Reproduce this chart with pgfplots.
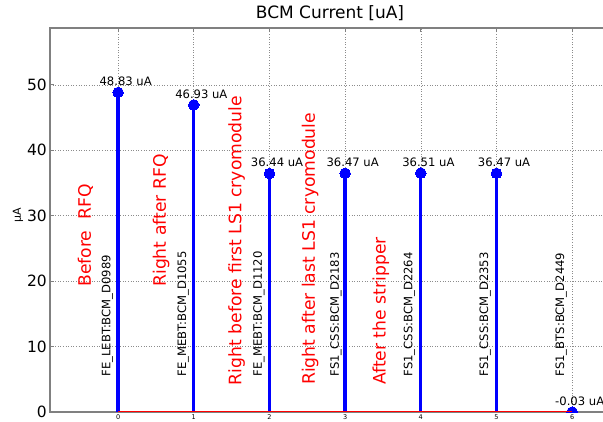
\documentclass[border=0pt]{standalone}
\usepackage{fontspec}
\setmainfont{DejaVu Sans}
\usepackage{pgfplots}
\pgfplotsset{compat=1.18}
\newcommand{\lab}{\fontsize{11.6}{13}\selectfont}
\newcommand{\redf}{\fontsize{17.2}{19}\selectfont}
\begin{document}
\begin{tikzpicture}[x=1pt,y=1pt]
\clip (0,0) rectangle (603,-422);
\begin{axis}[
  at={(50pt,-412pt)}, anchor=south west,
  scale only axis, width=560pt, height=384pt,
  xmin=-0.9, xmax=6.5, ymin=-0.031, ymax=58.69,
  xtick={0,1,2,3,4,5,6}, ytick={0,10,20,30,40,50},
  grid=major,
  major grid style={black!45, line width=0.6pt, dash pattern=on 1pt off 1.6pt},
  axis line style={black!50, line width=1.3pt},
  major tick style={black!50, line width=0.8pt},
  major tick length=4pt,
  /pgf/number format/assume math mode=true,
  xticklabel style={font=\fontsize{6.5}{7}\selectfont, inner sep=0pt, yshift=-2.5pt},
  yticklabel style={font=\fontsize{15.5}{17}\selectfont, inner sep=0pt, xshift=-3pt},
  title={BCM Current [uA]},
  title style={font=\fontsize{17}{19}\selectfont, at={(0.5,1)}, anchor=base, yshift=3pt, inner sep=0pt},
  ylabel={μA},
  ylabel style={font=\fontsize{11}{12}\selectfont, at={(axis description cs:-0.057,0.513)}, anchor=center},
  clip mode=individual,
  clip marker paths=true,
]
\addplot[ycomb, blue, line width=3.3pt, mark=*, mark size=5.3pt, mark options={solid, fill=blue, draw=blue, line width=0pt}]
  coordinates {(0,48.83) (1,46.93) (2,36.44) (3,36.47) (4,36.51) (5,36.47) (6,-0.03)};
\addplot[red, line width=0.6pt] coordinates {(0,0) (6,0)};
% value labels
\node[anchor=base, font=\lab] at (axis cs:0.1,49.83) {48.83 uA};
\node[anchor=base, font=\lab] at (axis cs:1.1,47.93) {46.93 uA};
\node[anchor=base, font=\lab] at (axis cs:2.1,37.44) {36.44 uA};
\node[anchor=base, font=\lab] at (axis cs:3.1,37.47) {36.47 uA};
\node[anchor=base, font=\lab] at (axis cs:4.1,37.51) {36.51 uA};
\node[anchor=base, font=\lab] at (axis cs:5.1,37.47) {36.47 uA};
\node[anchor=base, font=\lab] at (axis cs:6.1,0.97) {-0.03 uA};
% device names
\node[rotate=90, anchor=west, inner sep=0pt, font=\lab] at (axis cs:-0.14,5.4) {FE\_LEBT:BCM\_D0989};
\node[rotate=90, anchor=west, inner sep=0pt, font=\lab] at (axis cs:0.86,5.4) {FE\_MEBT:BCM\_D1055};
\node[rotate=90, anchor=west, inner sep=0pt, font=\lab] at (axis cs:1.86,5.4) {FE\_MEBT:BCM\_D1120};
\node[rotate=90, anchor=west, inner sep=0pt, font=\lab] at (axis cs:2.88,5.4) {FS1\_CSS:BCM\_D2183};
\node[rotate=90, anchor=west, inner sep=0pt, font=\lab] at (axis cs:3.85,5.4) {FS1\_CSS:BCM\_D2264};
\node[rotate=90, anchor=west, inner sep=0pt, font=\lab] at (axis cs:4.85,5.4) {FS1\_CSS:BCM\_D2353};
\node[rotate=90, anchor=west, inner sep=0pt, font=\lab] at (axis cs:5.855,5.4) {FS1\_BTS:BCM\_D2449};
% red annotations
\node[rotate=90, anchor=west, inner sep=0pt, text=red, font=\redf] at (axis cs:-0.433,19.1) {Before\ \ RFQ};
\node[rotate=90, anchor=west, inner sep=0pt, text=red, font=\redf] at (axis cs:0.569,19.1) {Right after RFQ};
\node[rotate=90, anchor=west, inner sep=0pt, text=red, font=\redf] at (axis cs:1.567,4.05) {Right before first LS1 cryomodule};
\node[rotate=90, anchor=west, inner sep=0pt, text=red, font=\redf] at (axis cs:2.536,4.1) {Right after last LS1 cryomodule};
\node[rotate=90, anchor=west, inner sep=0pt, text=red, font=\redf] at (axis cs:3.471,4.1) {After the stripper};
\end{axis}
\end{tikzpicture}
\end{document}
